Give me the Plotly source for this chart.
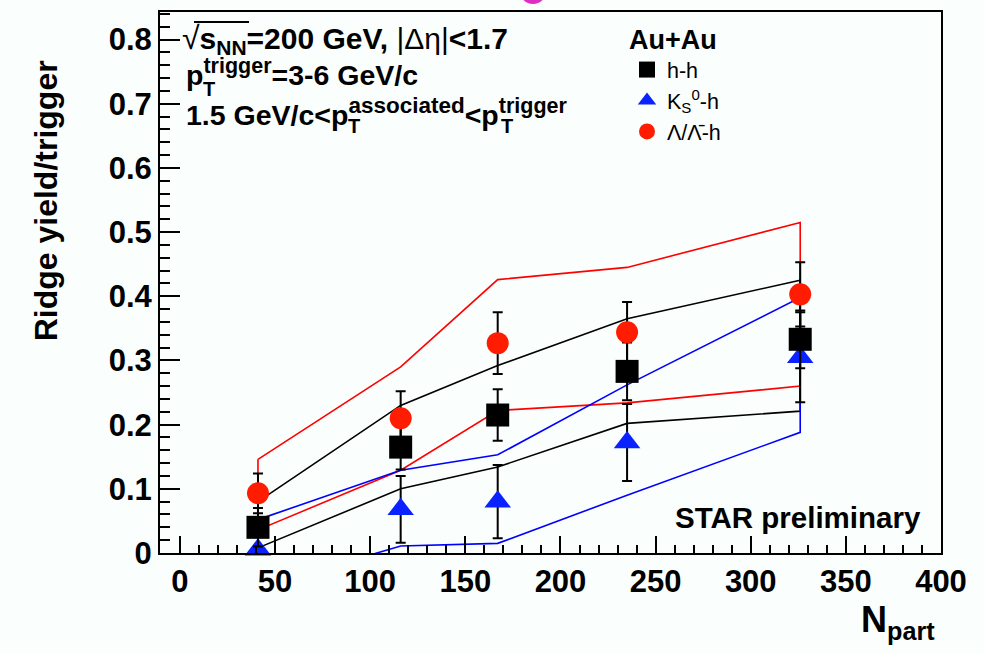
import plotly.graph_objects as go

# ---------------- data ----------------
npart = [41, 116, 167, 235, 326]

hh = [0.040, 0.165, 0.215, 0.283, 0.333]
hh_err = [0.030, 0.035, 0.040, 0.045, 0.045]
hh_sys_hi = [0.080, 0.230, 0.292, 0.365, 0.425]
hh_sys_lo = [0.008, 0.100, 0.134, 0.202, 0.221]

k0 = [0.005, 0.068, 0.080, 0.172, 0.305]
k0_err = [0.050, 0.052, 0.057, 0.060, 0.070]
k0_sys_hi = [0.052, 0.129, 0.153, 0.262, 0.398]
k0_sys_lo = [-0.055, 0.011, 0.015, 0.090, 0.188]

lam = [0.093, 0.210, 0.327, 0.344, 0.403]
lam_err = [0.031, 0.042, 0.048, 0.047, 0.050]
lam_sys_hi = [0.146, 0.290, 0.426, 0.445, 0.515]
lam_sys_lo = [0.036, 0.129, 0.222, 0.234, 0.260]

x_ticks = [0, 50, 100, 150, 200, 250, 300, 350, 400]
y_ticks = [0, 0.1, 0.2, 0.3, 0.4, 0.5, 0.6, 0.7, 0.8]

# ---------------- style ----------------
FONT = "Liberation Sans, Arial, Helvetica, sans-serif"
RED_M, RED_L = "#ff1c00", "#ff0000"
BLUE_M, BLUE_L = "#0a22ff", "#0000ff"
BLACK = "#000000"
BG = "#fafefc"

W, H = 984, 654
ML, MR, MT, MB = 160, 43, 10, 101
PW, PH = W - ML - MR, H - MT - MB


def px(x):
    return (x - ML) / PW


def py(y):
    return (H - MB - y) / PH


def band(xs, hi, lo):
    bx = list(xs) + list(xs)[::-1] + [xs[0]]
    by = list(hi) + list(lo)[::-1] + [hi[0]]
    return bx, by


def sup(t, size=21.5):
    return f"<sup><span style='font-size:{size}px'>{t}</span></sup>"


def sub(t, size=21):
    return f"<sub><span style='font-size:{size}px'>{t}</span></sub>"


fig = go.Figure()

for hi, lo, col in [(lam_sys_hi, lam_sys_lo, RED_L),
                    (hh_sys_hi, hh_sys_lo, BLACK),
                    (k0_sys_hi, k0_sys_lo, BLUE_L)]:
    bx, by = band(npart, hi, lo)
    fig.add_trace(go.Scatter(x=bx, y=by, mode="lines", showlegend=False,
                             line=dict(color=col, width=1.6), hoverinfo="skip"))

err_style = dict(type="data", color=BLACK, thickness=2, width=5)

fig.add_trace(go.Scatter(
    x=npart, y=k0, mode="markers", name="K<sub>S</sub><sup>0</sup>-h", legendrank=2,
    marker=dict(symbol="triangle-up", size=23, color=BLUE_M),
    error_y=dict(array=k0_err, **err_style), cliponaxis=False))
fig.add_trace(go.Scatter(
    x=npart, y=hh, mode="markers", name="h-h", legendrank=1,
    marker=dict(symbol="square", size=23, color=BLACK),
    error_y=dict(array=hh_err, **err_style), cliponaxis=False))
fig.add_trace(go.Scatter(
    x=npart, y=lam, mode="markers", name="Λ/Λ̄-h", legendrank=3,
    marker=dict(symbol="circle", size=22, color=RED_M),
    error_y=dict(array=lam_err, **err_style), cliponaxis=False))

axis_common = dict(showgrid=False, zeroline=False, showline=True, linecolor=BLACK,
                   linewidth=2, mirror=True, ticks="inside", tickcolor=BLACK,
                   tickwidth=2,
                   tickfont=dict(family=FONT, size=31, color=BLACK, weight="bold"))

fig.update_xaxes(range=[-10.5, 400], tickvals=x_ticks, ticklen=17,
                 minor=dict(dtick=10, tick0=0, ticklen=8, ticks="inside",
                            tickcolor=BLACK, tickwidth=2),
                 **axis_common)
fig.update_yaxes(range=[0, 0.843], tickvals=y_ticks, ticklen=20,
                 minor=dict(dtick=0.02, tick0=0, ticklen=10, ticks="inside",
                            tickcolor=BLACK, tickwidth=2),
                 **axis_common)

ann = []
# axis titles
ann.append(dict(text="Ridge yield/trigger", x=px(46), y=py(199), textangle=-90,
                xanchor="center", yanchor="middle",
                font=dict(size=32, weight="bold")))
ann.append(dict(text="N<sub>part</sub>", x=px(860), y=py(622),
                xanchor="left", yanchor="middle",
                font=dict(size=36, weight="bold")))
ann.append(dict(text="STAR preliminary", x=px(674), y=py(517),
                xanchor="left", yanchor="middle",
                font=dict(size=29.5, weight="bold")))
# info block
ann.append(dict(text="<span style='font-weight:normal;font-size:32px'>√</span>s" + sub("NN", 21)
                + "=200 GeV, <span style='font-weight:normal'>|Δη|</span>&lt;1.7",
                x=px(181), y=py(38), xanchor="left", yanchor="middle",
                font=dict(size=30, weight="bold")))
ann.append(dict(text="p" + sup("trigger") + "=3-6 GeV/c",
                x=px(185), y=py(71), xanchor="left", yanchor="middle",
                font=dict(size=28.5, weight="bold")))
ann.append(dict(text="T", x=px(202), y=py(87), xanchor="left", yanchor="middle",
                font=dict(size=20, weight="bold")))
ann.append(dict(text="1.5 GeV/c&lt;p" + sup("associated", 22.5) + "&lt;p" + sup("trigger"),
                x=px(185), y=py(110), xanchor="left", yanchor="middle",
                font=dict(size=28.5, weight="bold")))
ann.append(dict(text="T", x=px(347), y=py(124), xanchor="left", yanchor="middle",
                font=dict(size=20, weight="bold")))
ann.append(dict(text="T", x=px(500), y=py(124), xanchor="left", yanchor="middle",
                font=dict(size=20, weight="bold")))
for a in ann:
    a.update(xref="paper", yref="paper", showarrow=False, borderpad=0)
    a["font"].update(family=FONT, color=BLACK)

shapes = [
    dict(type="line", xref="paper", yref="paper", x0=px(194), x1=px(249),
         y0=py(20), y1=py(20), line=dict(color=BLACK, width=2)),
    dict(type="circle", xref="paper", yref="paper", x0=px(520), x1=px(546),
         y0=py(2), y1=py(-24), fillcolor="#e02cc4", line=dict(width=0)),
]

fig.update_layout(
    width=W, height=H, autosize=False,
    margin=dict(l=ML, r=MR, t=MT, b=MB),
    paper_bgcolor=BG, plot_bgcolor=BG,
    font=dict(family=FONT, color=BLACK),
    annotations=ann, shapes=shapes,
    legend=dict(x=px(627), y=py(12), xanchor="left", yanchor="top",
                bgcolor="rgba(0,0,0,0)", borderwidth=0,
                font=dict(family=FONT, size=21.5, color=BLACK),
                title=dict(text="Au+Au", font=dict(family=FONT, size=27, weight="bold")),
                traceorder="normal", itemsizing="trace"),
)

fig.write_html("out.html")
